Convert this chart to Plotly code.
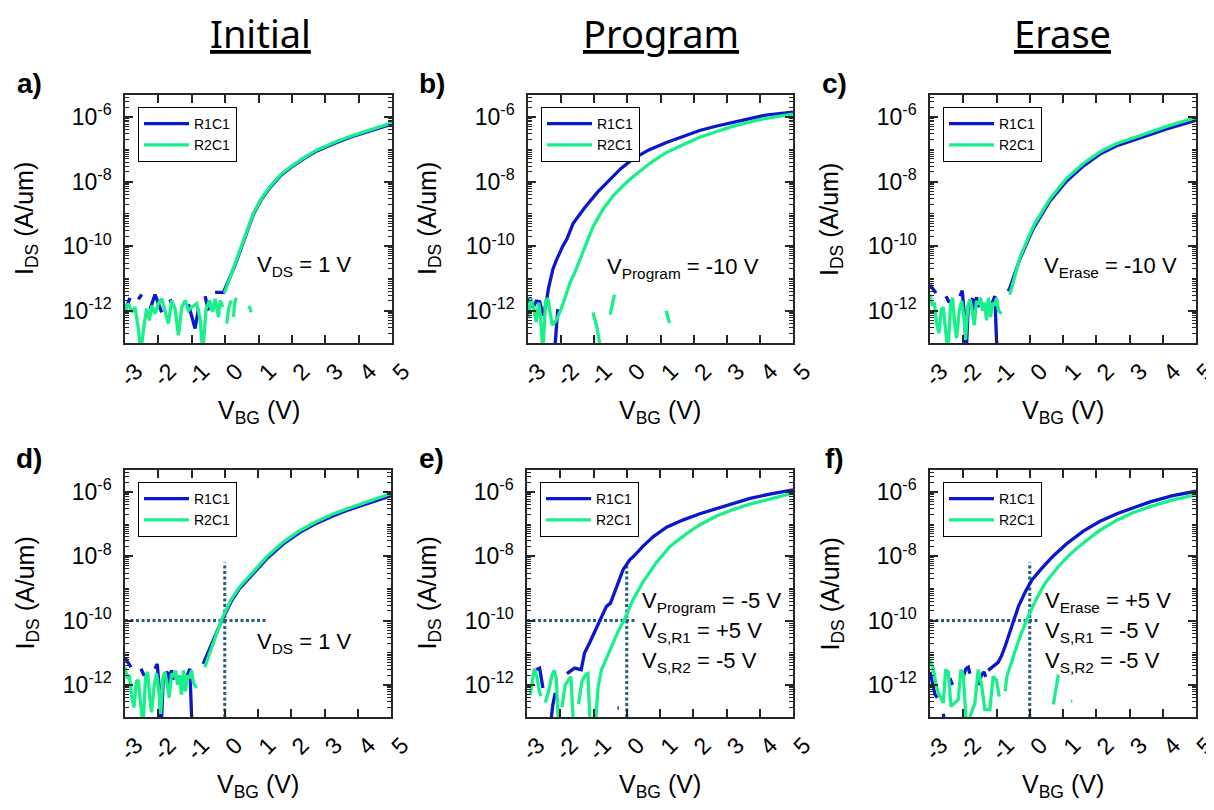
import plotly.graph_objects as go

# ---------------- data (V_BG in volts, log10 of I_DS in A/um) ----------------
# Panel a (Initial, V_DS = 1 V)
A_R1_V = [-3.0, -2.85, None, -2.6, -2.5, None, -2.25, -2.1, -1.9, None, -1.65, -1.6, None,
          -1.1, -1.0, -0.9, -0.8, None, -0.6, -0.5, None, -0.3, -0.05,
          0.3, 0.65, 0.85, 1.1, 1.35, 1.65, 1.95, 2.35, 2.75, 3.25, 3.75, 4.35, 5.0]
A_R1_LOG = [-12.0, -11.6, None, -11.65, -11.5, None, -11.95, -11.5, -12.05, None, -11.65, -11.8, None,
            -11.8, -12.2, -12.55, -11.95, None, -11.55, -12.0, None, -11.43, -11.43,
            -10.58, -9.53, -9.0, -8.53, -8.18, -7.83, -7.58, -7.3, -7.05, -6.83, -6.63, -6.43, -6.22]
A_R2_V = [-3.0, -2.9, -2.8, -2.7, -2.6, -2.53, -2.43, -2.35, -2.27, -2.2, -2.1, -2.0, -1.9, -1.8,
          -1.7, -1.6, -1.5, -1.4, -1.3, -1.2, -1.1, -1.0, -0.85, -0.75, -0.67, -0.57, -0.47, -0.37,
          -0.3, -0.2, -0.15, -0.07, None, 0.05, 0.1, 0.18, None, 0.25, 0.28, 0.33, None, 0.72, 0.78, None,
          -0.02, 0.3, 0.65, 0.85, 1.1, 1.35, 1.65, 1.95, 2.35, 2.75, 3.25, 3.75, 4.35, 5.0]
A_R2_LOG = [-11.99, -11.78, -12.04, -11.89, -12.55, -13.3, -12.45, -11.94, -12.3, -11.84, -12.09, -11.78,
            -11.63, -12.04, -12.4, -11.68, -11.94, -12.76, -11.89, -11.68, -11.99, -11.89, -11.78, -12.25,
            -13.3, -11.94, -11.68, -12.04, -11.63, -12.2, -11.68, -11.89, None, -12.4, -11.95, -11.68, None,
            -12.2, -11.8, -11.6, None, -11.85, -12.05, None,
            -11.45, -10.55, -9.5, -8.97, -8.5, -8.15, -7.8, -7.55, -7.27, -7.02, -6.8, -6.6, -6.4, -6.18]

# Panel b (Program, V_Program = -10 V)
B_R1_V = [-3.0, -2.93, -2.85, -2.75, -2.65, -2.58, -2.53, -2.45, -2.38, -2.25, -2.15, -1.95, -1.83,
          -1.64, -1.29, -0.9, -0.53, -0.2, 0.17, 0.65, 1.18, 1.7, 2.18, 2.7, 3.18, 3.7, 4.19, 5.0,
          None, -2.1, -2.15, -2.2]
B_R1_LOG = [-11.75, -11.6, -11.9, -11.7, -11.72, -12.0, -12.15, -11.75, -11.3, -10.72, -10.45, -10.0,
            -9.79, -9.3, -8.81, -8.33, -7.93, -7.6, -7.3, -7.02, -6.79, -6.6, -6.42, -6.28, -6.17, -6.05,
            -5.94, -5.85, None, -11.95, -12.6, -13.3]
B_R2_V = [-3.0, -2.92, -2.82, -2.75, -2.68, -2.62, -2.55, -2.47, -2.4, -2.33, -2.27, -2.15,
          -2.0, -1.85, -1.73, -1.6, -1.43, -1.23, -1.03, -0.73, -0.43, -0.1, 0.17, 0.7, 1.18, 1.7, 2.18,
          2.7, 3.18, 3.7, 4.19, 5.0, None, -1.04, -0.92, -0.79, None, -0.52, -0.45, -0.39, None, 1.17, 1.27]
B_R2_LOG = [-12.2, -11.62, -11.95, -12.35, -11.75, -12.2, -13.3, -11.7, -11.62, -12.0, -12.45, -12.3,
            -11.95, -11.5, -11.13, -10.85, -10.41, -9.87, -9.38, -8.85, -8.44, -8.1, -7.85, -7.42, -7.1,
            -6.85, -6.63, -6.45, -6.29, -6.15, -6.04, -5.91, None, -12.05, -12.5, -13.3, None,
            -12.12, -11.8, -11.5, None, -12.0, -12.38]

# Panel c (Erase, V_Erase = -10 V)
C_R1_V = [-3.0, -2.93, -2.82, None, -2.52, -2.42, None, -2.1, -2.03, -1.97, -1.91, -1.85, -1.78, -1.72,
          -1.67, -1.6, -1.55, None, -1.17, -1.1, -1.05, -1.0, -0.97, None,
          -0.65, -0.6, -0.29, 0.11, 0.61, 1.11, 1.61, 2.11, 2.6, 3.11, 3.6, 4.12, 5.0]
C_R1_LOG = [-11.2, -11.3, -11.45, None, -11.55, -11.75, None, -11.55, -11.38, -12.1, -13.3, -11.85, -11.7,
            -11.62, -12.0, -11.58, -11.9, None, -11.88, -11.7, -11.55, -12.9, -13.3, None,
            -11.4, -11.3, -10.38, -9.45, -8.6, -7.98, -7.52, -7.15, -6.9, -6.72, -6.55, -6.37, -6.1]
C_R2_V = [-3.0, -2.93, -2.87, -2.8, -2.73, -2.66, -2.6, -2.52, -2.46, -2.38, -2.32, -2.25, -2.2, -2.12,
          -2.05, -1.98, -1.93, -1.86, -1.8, -1.73, -1.67, -1.6, -1.54, -1.48, -1.42, -1.36, -1.3, -1.24,
          -1.18, -1.12, -1.06, -1.0, -0.94, -0.85, None,
          -0.6, -0.29, 0.11, 0.61, 1.11, 1.61, 2.11, 2.6, 3.11, 3.6, 4.12, 5.0]
C_R2_LOG = [-11.5, -11.85, -11.75, -12.4, -12.7, -11.95, -11.9, -12.75, -13.3, -11.8, -11.6, -12.5, -12.85,
            -12.0, -11.7, -12.2, -12.9, -11.85, -11.65, -12.0, -12.45, -11.7, -11.8, -11.6, -12.0, -11.75,
            -12.3, -11.6, -12.2, -11.75, -11.85, -11.6, -12.0, -12.1, None,
            -11.5, -10.33, -9.38, -8.53, -7.9, -7.44, -7.08, -6.83, -6.65, -6.48, -6.29, -6.02]

# Panel d (Initial, V_DS = 1 V, with guides)
D_R1_V = [-3.0, -2.93, -2.82, None, -2.52, -2.42, None, -2.1, -2.03, -1.97, -1.91, -1.85, -1.78, -1.72,
          -1.67, -1.6, -1.55, None, -1.18, -1.12, -1.05, -1.0, -0.97, None,
          -0.65, -0.4, -0.1, 0.2, 0.45, 0.76, 1.26, 1.76, 2.26, 2.75, 3.27, 3.75, 4.27, 5.0]
D_R1_LOG = [-11.15, -11.25, -11.45, None, -11.5, -11.72, None, -11.5, -11.35, -12.1, -13.3, -11.82, -11.65,
            -11.6, -12.0, -11.55, -11.85, None, -11.85, -11.65, -11.5, -12.9, -13.3, None,
            -11.35, -10.72, -10.02, -9.4, -9.0, -8.65, -8.08, -7.62, -7.26, -6.98, -6.74, -6.55, -6.38, -6.12]
D_R2_V = [-3.0, -2.93, -2.87, -2.8, -2.73, -2.66, -2.6, -2.52, -2.46, -2.38, -2.32, -2.25, -2.2, -2.12,
          -2.05, -1.98, -1.93, -1.86, -1.8, -1.73, -1.67, -1.6, -1.54, -1.48, -1.42, -1.36, -1.3, -1.24,
          -1.18, -1.12, -1.06, -1.0, -0.94, -0.85, None,
          -0.6, -0.35, -0.1, 0.2, 0.45, 0.76, 1.26, 1.76, 2.26, 2.75, 3.27, 3.75, 4.27, 5.0]
D_R2_LOG = [-11.45, -11.8, -11.7, -12.35, -12.7, -11.9, -11.85, -12.75, -13.3, -11.75, -11.6, -12.45, -12.85,
            -12.0, -11.65, -12.2, -12.9, -11.8, -11.6, -12.0, -12.4, -11.65, -11.75, -11.55, -12.0, -11.7,
            -12.3, -11.55, -12.2, -11.7, -11.8, -11.55, -11.95, -12.1, None,
            -11.45, -10.68, -9.98, -9.33, -8.95, -8.6, -8.02, -7.56, -7.2, -6.93, -6.68, -6.5, -6.32, -6.05]
D_GUIDE_H_V = [-3.0, 1.25]
D_GUIDE_H_LOG = [-10.0, -10.0]
D_GUIDE_V_V = [0.0, 0.0]
D_GUIDE_V_LOG = [-13.0, -8.2]

# Panel e (Program, V_Program = -5 V)
E_R1_V = [-2.72, -2.62, -2.52, None, -2.3, -2.22, -2.15, None, -1.8, -1.77, -1.57, -1.37, -1.27, -1.12,
          -0.96, -0.81, -0.61, -0.49, -0.31, -0.11, 0.09, 0.2, 0.5, 0.8, 1.2, 1.7, 2.2, 2.71, 3.2, 3.71,
          4.3, 5.0, None, -0.28, -0.24]
E_R1_LOG = [-11.53, -11.48, -12.1, None, -13.3, -12.6, -12.25, None, -11.65, -11.63, -11.48, -11.53, -11.01,
            -10.7, -10.34, -9.98, -9.56, -9.46, -8.94, -8.42, -8.11, -8.01, -7.68, -7.39, -7.1, -6.87, -6.68,
            -6.51, -6.35, -6.2, -6.07, -5.94, None, -12.72, -12.72]
E_R2_V = [-2.9, -2.83, -2.78, -2.7, -2.63, -2.58, None, -2.45, -2.35, -2.25, -2.18, -2.12, -2.05, None,
          -1.95, -1.85, -1.75, -1.68, -1.6, None, -1.45, -1.35, -1.25, -1.17, -1.1, None,
          -0.95, -0.91, -0.86, -0.76, -0.51, -0.26, -0.06, 0.19, 0.49, 0.89, 1.3, 1.8, 2.2, 2.7, 3.2,
          3.7, 4.21, 5.0]
E_R2_LOG = [-12.3, -11.9, -11.5, -11.75, -12.2, -12.35, None, -12.55, -12.2, -11.7, -11.55, -11.8, -13.3, None,
            -12.7, -12.0, -11.85, -11.75, -13.3, None, -12.6, -11.9, -11.7, -11.65, -13.3, None,
            -13.3, -12.56, -12.05, -11.53, -10.91, -10.34, -9.95, -9.35, -8.8, -8.2, -7.7, -7.3, -7.02,
            -6.75, -6.55, -6.38, -6.25, -6.04]
E_GUIDE_H_V = [-3.0, 0.25]
E_GUIDE_H_LOG = [-10.0, -10.0]
E_GUIDE_V_V = [0.0, 0.0]
E_GUIDE_V_LOG = [-13.0, -8.25]

# Panel f (Erase, V_Erase = +5 V)
F_R1_V = [-3.0, -2.93, -2.85, -2.78, None, -2.6, -2.55, None, -2.45, -2.38, -2.32, None, -2.0, -1.92,
          -1.85, -1.8, None, -1.55, -1.45, -1.38, -1.32, None,
          -1.25, -1.1, -0.95, -0.85, -0.74, -0.54, -0.34, -0.14, 0.06, 0.36, 0.7, 1.1, 1.61, 2.1, 2.62,
          3.1, 3.62, 4.3, 5.0]
F_R1_LOG = [-11.6, -11.9, -12.3, -12.4, None, -12.9, -13.3, None, -11.9, -11.85, -12.0, None, -11.75, -11.5,
            -11.45, -11.65, None, -12.0, -11.7, -11.6, -11.75, None,
            -11.55, -11.43, -11.3, -11.1, -10.8, -10.18, -9.56, -9.12, -8.75, -8.38, -8.0, -7.62, -7.22,
            -6.92, -6.68, -6.5, -6.31, -6.12, -5.98]
F_R2_V = [-3.0, -2.9, -2.82, -2.75, -2.6, -2.53, -2.45, -2.37, -2.15, -2.07, -2.0, -1.9, -1.65, -1.55,
          -1.45, -1.35, -1.2, -1.1, -1.0, -0.92, None,
          -0.74, -0.69, -0.49, -0.29, -0.09, 0.16, 0.46, 0.86, 1.2, 1.61, 2.1, 2.62, 3.1, 3.62, 4.3, 5.0,
          None, 0.71, 0.86, None, 1.24, 1.28]
F_R2_LOG = [-11.22, -11.5, -12.0, -12.25, -12.56, -11.53, -11.6, -12.67, -12.46, -11.53, -11.7, -13.3,
            -12.56, -11.53, -12.0, -12.77, -12.77, -11.74, -11.85, -12.36, None,
            -12.2, -11.74, -11.11, -10.49, -9.98, -9.41, -8.84, -8.32, -7.95, -7.59, -7.2, -6.88, -6.65,
            -6.46, -6.25, -6.09, None, -12.61, -11.68, None, -12.51, -12.51]
F_GUIDE_H_V = [-3.0, 0.25]
F_GUIDE_H_LOG = [-10.0, -10.0]
F_GUIDE_V_V = [0.0, 0.0]
F_GUIDE_V_LOG = [-13.0, -8.2]

SERIES_NAMES = ["R1C1", "R2C1"]
X_TICKS = [-3, -2, -1, 0, 1, 2, 3, 4, 5]
X_TICK_TEXT = ["-3", "-2", "-1", "0", "1", "2", "3", "4", "5"]
Y_TICKS = [1e-12, 1e-10, 1e-8, 1e-6]
Y_TICK_TEXT = ["10<sup>-12</sup>", "10<sup>-10</sup>", "10<sup>-8</sup>", "10<sup>-6</sup>"]
COLUMN_TITLES = ["Initial", "Program", "Erase"]
PANEL_LABELS = ["a)", "b)", "c)", "d)", "e)", "f)"]
CONDITIONS = [
    ["V<sub>DS</sub> = 1 V"],
    ["V<sub>Program</sub> = -10 V"],
    ["V<sub>Erase</sub> = -10 V"],
    ["V<sub>DS</sub> = 1 V"],
    ["V<sub>Program</sub> = -5 V", "V<sub>S,R1</sub> = +5 V", "V<sub>S,R2</sub> = -5 V"],
    ["V<sub>Erase</sub> = +5 V", "V<sub>S,R1</sub> = -5 V", "V<sub>S,R2</sub> = -5 V"],
]

# ---------------- style / layout ----------------
PAGE_W, PAGE_H = 1214, 810
BODY = 8                      # default page margin around the plot div
W, H = PAGE_W - BODY, PAGE_H - BODY
FONT = "Liberation Sans, Arial, sans-serif"
TITLE_FONT = "Noto Sans, Open Sans, sans-serif"
BLUE = "#0A16CF"
GREEN = "#19F08A"
GUIDE = "#22607E"
AXC = "#262626"

# plot boxes in screen pixels (left, top, right, bottom)
BOXES = [(125, 95, 392, 343), (528, 95, 793, 343), (930, 95, 1196, 343),
         (125, 470, 391, 717), (527, 470, 793, 717), (930, 470, 1196, 717)]


def px(x):
    return (x - BODY) / W


def py(y):
    return 1 - (y - BODY) / H


def to_current(vals):
    return [None if v is None else 10 ** v for v in vals]


panel_data = [
    ((A_R1_V, A_R1_LOG), (A_R2_V, A_R2_LOG), None),
    ((B_R1_V, B_R1_LOG), (B_R2_V, B_R2_LOG), None),
    ((C_R1_V, C_R1_LOG), (C_R2_V, C_R2_LOG), None),
    ((D_R1_V, D_R1_LOG), (D_R2_V, D_R2_LOG), ((D_GUIDE_H_V, D_GUIDE_H_LOG), (D_GUIDE_V_V, D_GUIDE_V_LOG))),
    ((E_R1_V, E_R1_LOG), (E_R2_V, E_R2_LOG), ((E_GUIDE_H_V, E_GUIDE_H_LOG), (E_GUIDE_V_V, E_GUIDE_V_LOG))),
    ((F_R1_V, F_R1_LOG), (F_R2_V, F_R2_LOG), ((F_GUIDE_H_V, F_GUIDE_H_LOG), (F_GUIDE_V_V, F_GUIDE_V_LOG))),
]

minor_vals = [k * 10.0 ** n for n in range(-13, -5) for k in range(1, 10)]

fig = go.Figure()
layout = dict(width=W, height=H, margin=dict(l=0, r=0, t=0, b=0, autoexpand=False),
              plot_bgcolor="white", paper_bgcolor="white", showlegend=True)
annotations = []

for i, (r1, r2, guides) in enumerate(panel_data):
    n = "" if i == 0 else str(i + 1)
    xa, ya = "x" + n, "y" + n
    leg = "legend" + n
    l, t, r, b = BOXES[i]

    if guides is not None:
        for gv, gl in guides:
            fig.add_trace(go.Scatter(x=gv, y=to_current(gl), mode="lines", xaxis=xa, yaxis=ya,
                                     line=dict(color=GUIDE, width=3, dash="3px,2.5px"),
                                     showlegend=False, hoverinfo="skip"))
    for (v, lg), name, col in zip((r1, r2), SERIES_NAMES, (BLUE, GREEN)):
        fig.add_trace(go.Scatter(x=v, y=to_current(lg), mode="lines", name=name, xaxis=xa, yaxis=ya,
                                 legend=leg, line=dict(color=col, width=3.3), connectgaps=False))

    layout["xaxis" + n] = dict(domain=[px(l), px(r)], anchor=ya, range=[-3, 5], automargin=False,
                               tickmode="array", tickvals=X_TICKS, ticktext=X_TICK_TEXT,
                               tickangle=-45, ticklabelshift=11, ticklabelstandoff=4,
                               ticklabeloverflow="allow",
                               ticks="inside", ticklen=8, tickwidth=1.5, tickcolor=AXC,
                               showline=True, linecolor=AXC, linewidth=1.5, mirror="ticks",
                               showgrid=False, zeroline=False,
                               tickfont=dict(family=FONT, size=23, color="black"))
    layout["yaxis" + n] = dict(domain=[py(b), py(t)], anchor=xa, type="log", range=[-13, -5.32],
                               automargin=False, ticklabelstandoff=7,
                               tickmode="array", tickvals=Y_TICKS, ticktext=Y_TICK_TEXT,
                               ticks="inside", ticklen=8, tickwidth=1.5, tickcolor=AXC,
                               showline=True, linecolor=AXC, linewidth=1.5, mirror="ticks",
                               showgrid=False, zeroline=False,
                               minor=dict(tickmode="array", tickvals=minor_vals, ticks="inside",
                                          ticklen=4, tickwidth=1, tickcolor=AXC),
                               tickfont=dict(family=FONT, size=23, color="black"))
    layout[leg] = dict(x=px(l + 13), y=py(t + 12), xanchor="left", yanchor="top",
                       bgcolor="white", bordercolor="black", borderwidth=1,
                       font=dict(family=FONT, size=14, color="black"),
                       itemwidth=45, tracegroupgap=0)

    # panel label
    annotations.append(dict(text="<b>" + PANEL_LABELS[i] + "</b>", x=px(l - 96), y=py(t - 12),
                            xref="paper", yref="paper", showarrow=False, xanchor="center",
                            yanchor="middle", font=dict(family=FONT, size=28, color="black")))
    # y-axis title
    annotations.append(dict(text="I<sub>DS</sub> (A/um)", x=px(l - 99), y=py((t + b) / 2),
                            xref="paper", yref="paper", showarrow=False, textangle=-90,
                            xanchor="center", yanchor="middle",
                            font=dict(family=FONT, size=25, color="black")))
    # x-axis title
    annotations.append(dict(text="V<sub>BG</sub> (V)", x=px((l + r) / 2), y=py(b + 69),
                            xref="paper", yref="paper", showarrow=False,
                            xanchor="center", yanchor="middle",
                            font=dict(family=FONT, size=25, color="black")))

# condition texts
cond_pos = [(304, 266, "center"), (683, 268, "center"), (1110, 267, "center"),
            (304, 643, "center"), (640, 602, "left"), (1043, 602, "left")]
for i, lines in enumerate(CONDITIONS):
    cx, cy, anc = cond_pos[i]
    for j, txt in enumerate(lines):
        annotations.append(dict(text=txt, x=px(cx), y=py(cy + 30 * j), xref="paper", yref="paper",
                                showarrow=False, xanchor=anc, yanchor="middle",
                                font=dict(family=FONT, size=22, color="black")))

# column titles
for txt, cx in zip(COLUMN_TITLES, (260, 661, 1062)):
    annotations.append(dict(text="<u>" + txt + "</u>", x=px(cx), y=py(33), xref="paper", yref="paper",
                            showarrow=False, xanchor="center", yanchor="middle",
                            font=dict(family=TITLE_FONT, size=38, color="black")))

layout["annotations"] = annotations
fig.update_layout(**layout)
fig.write_html("out.html")
